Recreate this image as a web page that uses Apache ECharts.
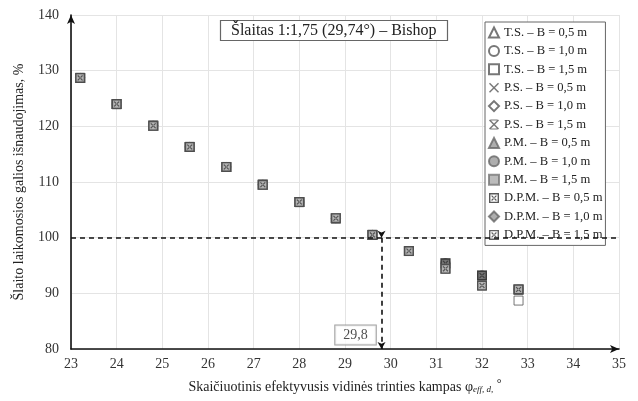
<!DOCTYPE html>
<html>
<head>
<meta charset="utf-8">
<script src="https://cdn.jsdelivr.net/npm/echarts@6/dist/echarts.min.js"></script>
<style>html,body{margin:0;padding:0;background:#fff;}#c{width:638px;height:401px;}</style>
</head>
<body>
<div id="c"></div>
<script>
// ---- data ----
var phi = [23.2, 24, 24.8, 25.6, 26.4, 27.2, 28, 28.8, 29.6, 30.4, 31.2, 32, 32.8];
var fsUpper = [128.7, 124.0, 120.1, 116.3, 112.7, 109.5, 106.4, 103.5, 100.5, 97.6, 95.4, 93.2, 90.7];
var fsLower = [128.7, 124.0, 120.1, 116.3, 112.7, 109.5, 106.4, 103.5, 100.5, 97.6, 94.4, 91.4, 90.7];
var fsTS15 = [128.7, 124.0, 120.1, 116.3, 112.7, 109.5, 106.4, 103.5, 100.5, 97.6, 94.4, 91.4, 88.7];
var seriesNames = ['T.S. – B = 0,5 m','T.S. – B = 1,0 m','T.S. – B = 1,5 m','P.S. – B = 0,5 m','P.S. – B = 1,0 m','P.S. – B = 1,5 m','P.M. – B = 0,5 m','P.M. – B = 1,0 m','P.M. – B = 1,5 m','D.P.M. – B = 0,5 m','D.P.M. – B = 1,0 m','D.P.M. – B = 1,5 m'];
var seriesValues = [fsUpper, fsUpper, fsTS15, fsUpper, fsUpper, fsLower, fsUpper, fsUpper, fsLower, fsUpper, fsLower, fsLower];
var xTicks = {min: 23, max: 35, step: 1};
var yTicks = {min: 80, max: 140, step: 10};
var limitFs = 100;
var phiCrit = 29.8;
var phiCritLabel = '29,8';
var titleText = 'Šlaitas 1:1,75 (29,74°) – Bishop';

// ---- styling ----
var SERIF = '"Liberation Serif", "DejaVu Serif", serif';
var P_X = 'path://M1,0L5,4L9,0L10,1L6,5L10,9L9,10L5,6L1,10L0,9L4,5L0,1Z';
var P_AST = 'path://M1,0L5,4L9,0L10,1L6,5L10,9L9,10L5,6L1,10L0,9L4,5L0,1Z M1.5,0H8.5V0.9H1.5Z M1.5,9.1H8.5V10H1.5Z';
var P_BOX = 'path://M0,0H10V10H0Z M1.4,1.4V8.6H8.6V1.4Z M2.2,3L3,2.2L7.8,7L7,7.8Z M7.8,3L7,2.2L2.2,7L3,7.8Z';
var styles = [
  {symbol:'triangle', color:'#fff', border:'#555'},
  {symbol:'circle', color:'#fff', border:'#555'},
  {symbol:'rect', color:'#fff', border:'#555'},
  {symbol:P_X, color:'#555', border:null},
  {symbol:'diamond', color:'#fff', border:'#555'},
  {symbol:P_AST, color:'#555', border:null},
  {symbol:'triangle', color:'#9a9a9a', border:'#666'},
  {symbol:'circle', color:'#9a9a9a', border:'#666'},
  {symbol:'rect', color:'#aaaaaa', border:'#777'},
  {symbol:P_BOX, color:'#2e2e2e', border:null, under:'#6a6a6a'},
  {symbol:'diamond', color:'#9a9a9a', border:'#666'},
  {symbol:P_BOX, color:'#3a3a3a', border:null, under:'#bdbdbd'}
];

function pts(vals){ return phi.map(function(x,i){ return [x, vals[i]]; }); }

var series = [];
seriesNames.forEach(function(name, i){
  var st = styles[i];
  if (st.under) {
    series.push({
      type:'scatter', name:'_under'+i, data: pts(seriesValues[i]),
      symbol:'rect', symbolSize:10, silent:true,
      itemStyle:{color: st.under}
    });
  }
  var it = {color: st.color};
  if (st.border) { it.borderColor = st.border; it.borderWidth = 1; }
  series.push({
    type:'scatter', name:name, data: pts(seriesValues[i]),
    symbol: st.symbol, symbolSize: st.under ? 10 : 9,
    itemStyle: it
  });
});

// reference lines
series.push({
  type:'line', name:'_ref', data:[], silent:true,
  markLine:{
    silent:true, symbol:['none','none'], animation:false,
    lineStyle:{color:'#111', type:[5,4], width:1.6},
    label:{show:false},
    data:[
      [{coord:[xTicks.min, limitFs]}, {coord:[xTicks.max, limitFs]}]
    ]
  }
});
series.push({
  type:'line', name:'_ref2', data:[], silent:true,
  markLine:{
    silent:true, symbol:['arrow','arrow'], symbolSize:[6,7], animation:false,
    lineStyle:{color:'#111', type:[5,4], width:1.6},
    label:{show:false},
    data:[
      [{coord:[phiCrit, limitFs], symbolRotate:180}, {coord:[phiCrit, yTicks.min]}]
    ]
  }
});
series.push({
  type:'scatter', name:'_lbl', data:[[phiCrit, yTicks.min]], symbolSize:0, silent:true,
  label:{
    show:true, position:'inside', offset:[-26,-14], formatter: phiCritLabel,
    fontFamily:SERIF, fontSize:14, color:'#222',
    backgroundColor:'#fff', borderColor:'#888', borderWidth:1, padding:[3,8,2,8]
  }
});

var legendData = seriesNames.map(function(n, i){
  return {name:n, icon: styles[i].symbol};
});

var chart = echarts.init(document.getElementById('c'), null, {renderer:'canvas'});
chart.setOption({
  animation:false,
  backgroundColor:'#fff',
  title:{
    text:titleText, left:220, top:20,
    padding:[3,11,2,11], borderColor:'#666', borderWidth:1.2, backgroundColor:'#fff',
    textStyle:{fontFamily:SERIF, fontSize:16, fontWeight:'normal', color:'#222'}
  },
  legend:{
    data:legendData, orient:'vertical', left:485, top:22,
    padding:[4,3,4,3], itemGap:5.4, itemWidth:10, itemHeight:10,
    borderColor:'#666', borderWidth:1, backgroundColor:'#fff',
    textStyle:{fontFamily:SERIF, fontSize:12.6, color:'#222', lineHeight:13},
    selectedMode:false
  },
  grid:{left:71, right:19, top:15, bottom:52, containLabel:false},
  xAxis:{
    type:'value', min:xTicks.min, max:xTicks.max, interval:xTicks.step,
    name:'{a|Skaičiuotinis efektyvusis vidinės trinties kampas φ}{s|eff, d,}{a| }{d|°}',
    nameLocation:'middle', nameGap:29,
    nameTextStyle:{
      fontFamily:SERIF, color:'#222',
      rich:{
        a:{fontFamily:SERIF, fontSize:14, color:'#222', lineHeight:16, verticalAlign:'bottom'},
        s:{fontFamily:SERIF, fontSize:9, fontStyle:'italic', color:'#222', lineHeight:16, verticalAlign:'bottom', padding:[8,0,0,0]},
        d:{fontFamily:SERIF, fontSize:12, color:'#222', lineHeight:16, verticalAlign:'top', padding:[0,0,6,0]}
      }
    },
    axisLine:{show:true, onZero:false, symbol:['none','arrow'], symbolSize:[6,9], lineStyle:{color:'#111', width:1.6}},
    axisTick:{show:false},
    axisLabel:{fontFamily:SERIF, fontSize:14, color:'#333', margin:8},
    splitLine:{show:true, lineStyle:{color:'#e4e4e4', width:1}}
  },
  yAxis:{
    type:'value', min:yTicks.min, max:yTicks.max, interval:yTicks.step,
    name:'Šlaito laikomosios galios išnaudojimas, %',
    nameLocation:'middle', nameGap:45,
    nameTextStyle:{fontFamily:SERIF, fontSize:14, color:'#222'},
    axisLine:{show:true, onZero:false, symbol:['none','arrow'], symbolSize:[6,9], lineStyle:{color:'#111', width:1.6}},
    axisTick:{show:false},
    axisLabel:{fontFamily:SERIF, fontSize:14, color:'#333', margin:12},
    splitLine:{show:true, lineStyle:{color:'#e4e4e4', width:1}}
  },
  series:series
});
</script>
</body>
</html>
